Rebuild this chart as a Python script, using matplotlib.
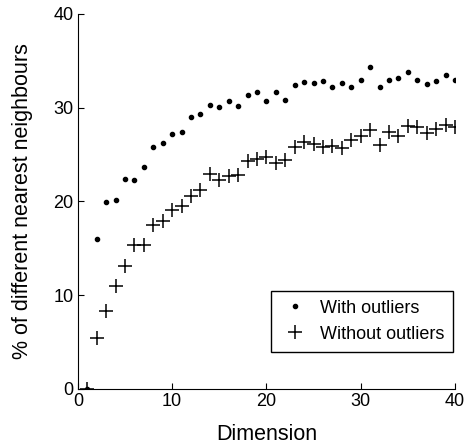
import matplotlib
matplotlib.use("Agg")
from matplotlib import pyplot as plt
import numpy as np

plt.rcParams['font.family'] = ['Liberation Sans', 'DejaVu Sans']

dimension = np.arange(1, 41)

with_outliers = [0.0, 16.0, 19.9, 20.1, 22.4, 22.3, 23.7, 25.8, 26.2, 27.2,
                 27.4, 29.0, 29.3, 30.3, 30.1, 30.7, 30.2, 31.3, 31.7, 30.7,
                 31.7, 30.8, 32.4, 32.7, 32.6, 32.8, 32.2, 32.6, 32.2, 33.0,
                 34.3, 32.2, 32.9, 33.2, 33.8, 32.9, 32.5, 32.8, 33.5, 33.0]

without_outliers = [0.0, 5.4, 8.3, 10.95, 13.1, 15.3, 15.3, 17.5, 17.9, 19.1,
                    19.5, 20.6, 21.2, 22.9, 22.3, 22.7, 22.8, 24.3, 24.5, 24.7,
                    24.1, 24.4, 25.8, 26.3, 26.1, 25.85, 25.9, 25.7, 26.5, 27.0,
                    27.6, 26.0, 27.4, 26.95, 28.0, 27.9, 27.3, 27.7, 28.1, 27.9]

fig = plt.figure(figsize=(4.69, 4.48), dpi=100)
ax = fig.add_axes([0.166, 0.132, 0.804, 0.837])

ax.plot(dimension, with_outliers, linestyle='none', marker='.', markersize=6,
        color='black', label='With outliers')
ax.plot(dimension, without_outliers, linestyle='none', marker='+', markersize=10,
        markeredgewidth=1.1, color='black', label='Without outliers')

ax.set_xlim(0, 40)
ax.set_ylim(0, 40)
ax.set_xticks([0, 10, 20, 30, 40])
ax.set_yticks([0, 10, 20, 30, 40])
ax.spines['top'].set_visible(False)
ax.spines['right'].set_visible(False)
ax.tick_params(direction='in', length=4, labelsize=13, pad=3)
ax.set_xlabel('Dimension', fontsize=15.5)
ax.set_ylabel('% of different nearest neighbours', fontsize=15.5)
ax.xaxis.set_label_coords(0.5, -0.095)
ax.yaxis.set_label_coords(-0.119, 0.5)

leg = ax.legend(loc='lower right', bbox_to_anchor=(0.995, 0.099), fontsize=13,
                fancybox=False, edgecolor='black', framealpha=1,
                borderaxespad=0, handletextpad=0.5, borderpad=0.5,
                labelspacing=0.5, handlelength=1.7)
leg.get_frame().set_linewidth(1.0)

fig.savefig('out.png', dpi=100)
